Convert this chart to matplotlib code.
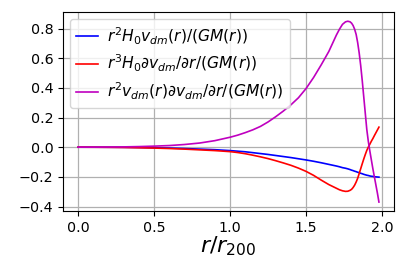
import matplotlib
matplotlib.use("Agg")
import matplotlib.pyplot as plt

x = [0.0, 0.1, 0.2, 0.3, 0.4, 0.5, 0.6, 0.7, 0.8, 0.9,
     1.0, 1.05, 1.1, 1.15, 1.2, 1.25, 1.3, 1.35, 1.4, 1.45,
     1.5, 1.55, 1.6, 1.65, 1.7, 1.72, 1.74, 1.76, 1.775, 1.79,
     1.8, 1.81, 1.82, 1.83, 1.84, 1.85, 1.86, 1.87, 1.88, 1.89,
     1.9, 1.91, 1.92, 1.93, 1.94, 1.95, 1.96, 1.97, 1.98]

blue = [0.0, 0.0, -0.0005, -0.001, -0.002, -0.004, -0.006, -0.009, -0.013, -0.017,
        -0.023, -0.027, -0.031, -0.037, -0.043, -0.049, -0.056, -0.063, -0.070, -0.078,
        -0.086, -0.095, -0.105, -0.116, -0.127, -0.132, -0.138, -0.142, -0.146, -0.151,
        -0.155, -0.158, -0.162, -0.165, -0.169, -0.172, -0.176, -0.179, -0.183, -0.186,
        -0.189, -0.191, -0.194, -0.196, -0.197, -0.199, -0.200, -0.201, -0.202]

red = [0.0, -0.0005, -0.001, -0.002, -0.004, -0.006, -0.009, -0.013, -0.018, -0.023,
       -0.030, -0.036, -0.044, -0.054, -0.065, -0.077, -0.091, -0.106, -0.122, -0.141,
       -0.163, -0.190, -0.222, -0.252, -0.277, -0.287, -0.294, -0.298, -0.297, -0.291,
       -0.284, -0.272, -0.256, -0.235, -0.210, -0.178, -0.145, -0.112, -0.080, -0.050,
       -0.022, 0.000, 0.020, 0.040, 0.058, 0.078, 0.097, 0.116, 0.135]

magenta = [0.0, 0.0, 0.001, 0.002, 0.004, 0.007, 0.011, 0.018, 0.028, 0.044,
           0.067, 0.081, 0.098, 0.117, 0.140, 0.170, 0.205, 0.243, 0.285, 0.333,
           0.395, 0.470, 0.555, 0.645, 0.756, 0.795, 0.828, 0.845, 0.849, 0.845,
           0.836, 0.820, 0.795, 0.760, 0.705, 0.635, 0.550, 0.450, 0.340, 0.230,
           0.120, 0.040, -0.025, -0.085, -0.145, -0.200, -0.255, -0.310, -0.370]

labels = [r'$r^2H_0v_{dm}(r)/(GM(r))$',
          r'$r^3H_0\partial v_{dm}/\partial r/(GM(r))$',
          r'$r^2v_{dm}(r)\partial v_{dm}/\partial r/(GM(r))$']

fig = plt.figure(figsize=(4.07, 2.71), dpi=100)
ax = fig.add_axes([0.155, 0.221, 0.813, 0.734])
ax.plot(x, blue, color='b', lw=1.2, label=labels[0])
ax.plot(x, red, color='r', lw=1.2, label=labels[1])
ax.plot(x, magenta, color='m', lw=1.2, label=labels[2])
ax.grid(True, color='#b0b0b0', lw=0.9)
ax.set_xticks([0.0, 0.5, 1.0, 1.5, 2.0])
ax.set_yticks([-0.4, -0.2, 0.0, 0.2, 0.4, 0.6, 0.8])
ax.tick_params(labelsize=10.3)
ax.set_xlabel(r'$r/r_{200}$', fontsize=16, labelpad=0)
ax.legend(loc='upper left', fontsize=11.2, handlelength=1.4, borderpad=0.4,
          labelspacing=0.42, handletextpad=0.6, borderaxespad=0.45)
fig.savefig('out.png', dpi=100)
